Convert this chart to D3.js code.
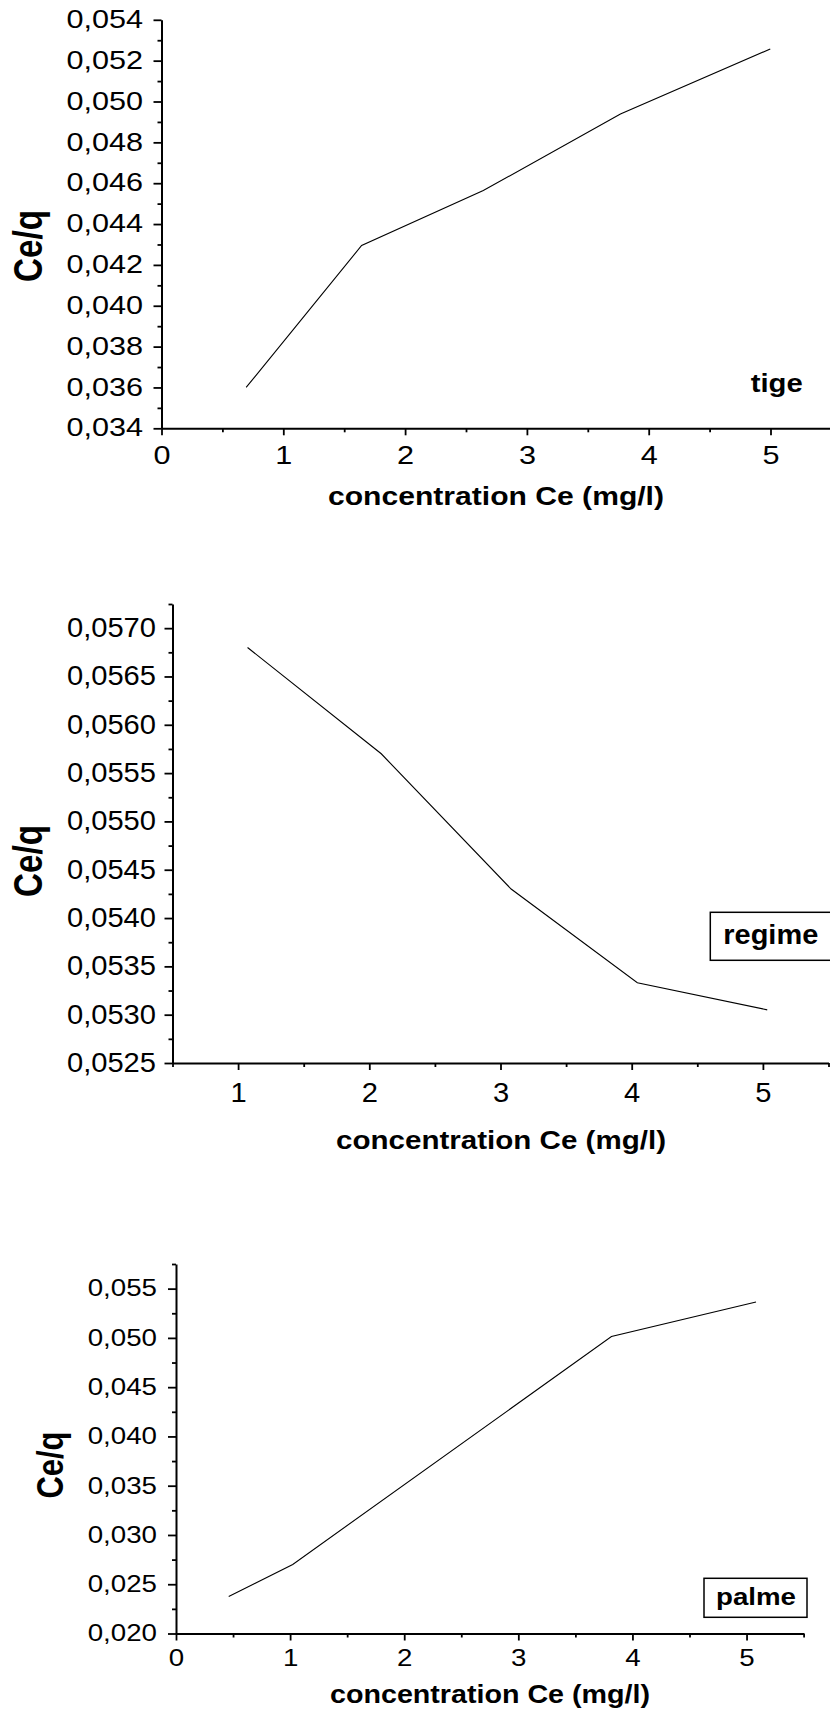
<!DOCTYPE html>
<html>
<head>
<meta charset="utf-8">
<script src="https://cdn.jsdelivr.net/npm/d3@7"></script>
<style>
  html, body { margin: 0; padding: 0; background: #fff; }
  svg { display: block; }
  text { font-family: "Liberation Sans", Arial, Helvetica, sans-serif; fill: #000; }
</style>
</head>
<body>
<svg id="fig" width="830" height="1711"></svg>
<script>
// ---- data: Ce/q against equilibrium concentration Ce (mg/l) ----
const tigeCe      = [0.695, 1.643, 2.642, 3.768, 4.998];
const tigeRatio   = [0.03600, 0.04295, 0.04564, 0.04939, 0.05257];

const regimeCe    = [1.072, 2.091, 3.081, 4.043, 5.033];
const regimeRatio = [0.05680, 0.05570, 0.05430, 0.05333, 0.05305];

const palmeCe     = [0.462, 1.023, 3.816, 5.083];
const palmeRatio  = [0.02375, 0.02701, 0.05014, 0.05365];

// ---- axis ticks ----
const tigeYTicks   = [0.034, 0.036, 0.038, 0.040, 0.042, 0.044, 0.046, 0.048, 0.050, 0.052, 0.054];
const tigeXTicks   = [0, 1, 2, 3, 4, 5];
const regimeYTicks = [0.0525, 0.0530, 0.0535, 0.0540, 0.0545, 0.0550, 0.0555, 0.0560, 0.0565, 0.0570];
const regimeXTicks = [1, 2, 3, 4, 5];
const palmeYTicks  = [0.020, 0.025, 0.030, 0.035, 0.040, 0.045, 0.050, 0.055];
const palmeXTicks  = [0, 1, 2, 3, 4, 5];

const xTitle = "concentration Ce (mg/l)";
const yTitle = "Ce/q";

const fr = d3.formatLocale({ decimal: ",", thousands: " ", grouping: [3], currency: ["", ""] });

const panels = [
  {
    label: "tige",
    xs: tigeCe, ys: tigeRatio, xTicks: tigeXTicks, yTicks: tigeYTicks,
    xDomain: [0, 5.5], yDomain: [0.034, 0.054], xStep: 1, yStep: 0.002, fmt: ".3f",
    left: 161.5, right: 831.4, top: 19.8, bottom: 428.3,
    tickFont: 25.5, tickStretch: 1.2, yPad: 10.5, xLabelBase: 35.5,
    xTitleX: 496, xTitleY: 505, xTitleW: 336,
    yTitleX: 31.5, yTitleY: 246, yTitleLen: 72, yTitleSx: 1.26,
    labelX: 776.7, labelY: 391.7, labelFont: 25, labelW: 52
  },
  {
    label: "regime",
    xs: regimeCe, ys: regimeRatio, xTicks: regimeXTicks, yTicks: regimeYTicks,
    xDomain: [0.5, 5.5], yDomain: [0.0525, 0.05725], xStep: 1, yStep: 0.0005, fmt: ".4f",
    left: 172.5, right: 828.5, top: 604, bottom: 1063,
    tickFont: 28, tickStretch: 1.04, yPad: 8.5, xLabelBase: 38.5,
    xTitleX: 501, xTitleY: 1149, xTitleW: 330,
    yTitleX: 31.5, yTitleY: 861, yTitleLen: 72, yTitleSx: 1.26,
    labelX: 770.8, labelY: 944.3, labelFont: 28, labelW: 95,
    box: [710.3, 912.3, 840, 960.3]
  },
  {
    label: "palme",
    xs: palmeCe, ys: palmeRatio, xTicks: palmeXTicks, yTicks: palmeYTicks,
    xDomain: [0, 5.5], yDomain: [0.020, 0.0575], xStep: 1, yStep: 0.005, fmt: ".3f",
    left: 176, right: 803.6, top: 1264, bottom: 1633.5,
    tickFont: 24.5, tickStretch: 1.13, yPad: 11, xLabelBase: 32,
    xTitleX: 490, xTitleY: 1703, xTitleW: 320,
    yTitleX: 54, yTitleY: 1465, yTitleLen: 67, yTitleSx: 1.14,
    labelX: 756, labelY: 1605, labelFont: 23.5, labelW: 80,
    box: [704, 1578.3, 807, 1617.3]
  }
];

const svg = d3.select("#fig");

// widen glyphs horizontally by factor k
function stretch(sel, k) {
  sel.each(function () {
    const w = this.getComputedTextLength();
    this.setAttribute("textLength", w * k);
    this.setAttribute("lengthAdjust", "spacingAndGlyphs");
  });
}
function fitWidth(sel, w) {
  sel.attr("textLength", w).attr("lengthAdjust", "spacingAndGlyphs");
}
function minorValues(domain, step, majors) {
  return d3.range(domain[0], domain[1] + step * 1e-6, step)
    .filter(v => !majors.some(t => Math.abs(t - v) < step * 1e-3));
}

panels.forEach(p => {
  const x = d3.scaleLinear().domain(p.xDomain).range([p.left, p.right]);
  const y = d3.scaleLinear().domain(p.yDomain).range([p.bottom, p.top]);
  const g = svg.append("g").attr("class", "panel-" + p.label);
  const fmt = fr.format(p.fmt);

  // y axis: minor then major ticks
  g.append("g")
    .attr("transform", `translate(${p.left},0)`)
    .call(d3.axisLeft(y).tickValues(minorValues(p.yDomain, p.yStep / 2, p.yTicks))
      .tickSize(4).tickSizeOuter(0).tickFormat(""))
    .call(s => s.select(".domain").remove())
    .selectAll("line").attr("stroke", "#000").attr("stroke-width", 1.8);

  const ya = g.append("g")
    .attr("transform", `translate(${p.left},0)`)
    .call(d3.axisLeft(y).tickValues(p.yTicks).tickSize(8).tickPadding(p.yPad)
      .tickSizeOuter(0).tickFormat(fmt));
  ya.select(".domain").attr("stroke", "#000").attr("stroke-width", 2);
  ya.selectAll("line").attr("stroke", "#000").attr("stroke-width", 1.8);
  ya.attr("font-family", null).attr("font-size", null);
  ya.selectAll("text").attr("font-size", p.tickFont).attr("dy", "0.3em").call(stretch, p.tickStretch);

  // x axis: minor then major ticks
  g.append("g")
    .attr("transform", `translate(0,${p.bottom})`)
    .call(d3.axisBottom(x).tickValues(minorValues(p.xDomain, p.xStep / 2, p.xTicks))
      .tickSize(4).tickSizeOuter(0).tickFormat(""))
    .call(s => s.select(".domain").remove())
    .selectAll("line").attr("stroke", "#000").attr("stroke-width", 1.8);

  const xa = g.append("g")
    .attr("transform", `translate(0,${p.bottom})`)
    .call(d3.axisBottom(x).tickValues(p.xTicks).tickSize(7).tickSizeOuter(0).tickFormat(d3.format("d")));
  xa.select(".domain").attr("stroke", "#000").attr("stroke-width", 2);
  xa.selectAll("line").attr("stroke", "#000").attr("stroke-width", 1.8);
  xa.attr("font-family", null).attr("font-size", null);
  xa.selectAll("text").attr("font-size", p.tickFont).attr("y", p.xLabelBase).attr("dy", null)
    .call(stretch, p.tickStretch);

  // data line
  const pts = p.xs.map((v, i) => [v, p.ys[i]]);
  g.append("path")
    .datum(pts)
    .attr("fill", "none")
    .attr("stroke", "#000")
    .attr("stroke-width", 1.1)
    .attr("d", d3.line().x(d => x(d[0])).y(d => y(d[1])));

  // axis titles
  g.append("text")
    .attr("x", p.xTitleX).attr("y", p.xTitleY)
    .attr("text-anchor", "middle").attr("font-weight", "bold").attr("font-size", 25)
    .text(xTitle).call(fitWidth, p.xTitleW);

  g.append("text")
    .attr("transform", `translate(${p.yTitleX},${p.yTitleY}) scale(${p.yTitleSx},1) rotate(-90)`)
    .attr("text-anchor", "middle").attr("dy", "0.25em")
    .attr("font-weight", "bold").attr("font-size", 32)
    .text(yTitle).call(fitWidth, p.yTitleLen);

  // sample label
  if (p.box) {
    g.append("rect")
      .attr("x", p.box[0]).attr("y", p.box[1])
      .attr("width", p.box[2] - p.box[0]).attr("height", p.box[3] - p.box[1])
      .attr("fill", "#fff").attr("stroke", "#000").attr("stroke-width", 1.5);
  }
  g.append("text")
    .attr("x", p.labelX).attr("y", p.labelY)
    .attr("text-anchor", "middle").attr("font-weight", "bold").attr("font-size", p.labelFont)
    .text(p.label).call(fitWidth, p.labelW);
});
</script>
</body>
</html>
